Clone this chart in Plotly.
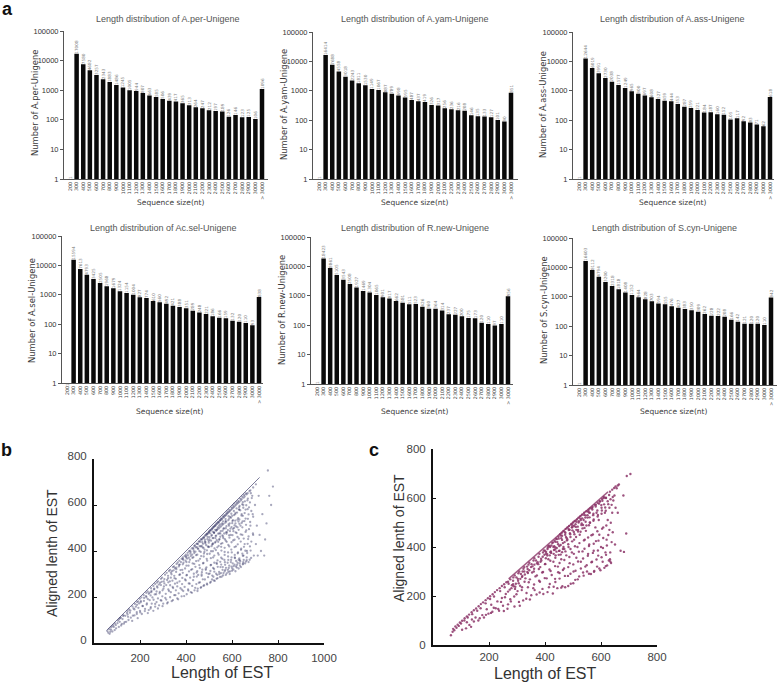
import plotly.graph_objects as go

W, H = 778, 682

sizes = [str(s) for s in range(200, 3100, 100)] + ["> 3000"]

per_counts = [1, 17008, 7580, 4682, 3257, 2343, 1883, 1486, 1245, 1005, 944, 807, 663, 585, 506,
              439, 417, 365, 313, 264, 247, 212, 197, 189, 126, 146, 123, 125, 106, 1096]
yam_counts = [1, 16414, 7688, 4558, 3018, 2243, 1811, 1530, 1149, 1067, 887, 789, 698, 595, 487,
              437, 419, 326, 317, 256, 236, 216, 208, 146, 135, 133, 127, 101, 90, 851]
ass_counts = [1, 12644, 6019, 3991, 2730, 2038, 1577, 1249, 965, 800, 697, 608, 527, 459, 444,
              353, 287, 259, 221, 184, 187, 160, 152, 105, 117, 92, 83, 71, 62, 618]
sel_counts = [1, 15594, 7613, 4793, 3425, 2505, 1968, 1679, 1324, 1154, 1004, 827, 774, 610, 560,
              492, 421, 388, 351, 289, 248, 221, 186, 166, 159, 132, 120, 110, 93, 838]
new_counts = [1, 18423, 8861, 5105, 3543, 2508, 1927, 1469, 1304, 1065, 901, 817, 662, 581, 511,
              523, 426, 360, 364, 314, 237, 227, 200, 175, 173, 120, 110, 97, 110, 956]
cyn_counts = [1, 16603, 8112, 4794, 3200, 2318, 1818, 1408, 1152, 964, 828, 703, 594, 555, 476,
              427, 383, 350, 309, 262, 228, 222, 208, 166, 142, 121, 120, 120, 110, 942]

log_ticks = [1, 10, 100, 1000, 10000, 100000]

# points, grouped by length band
b_edge = [55, 720]
b_points = [
    (62, 45), (68, 40), (74, 58), (80, 50), (86, 70), (90, 56), (96, 64), (102, 86), (108, 70), (112, 92),
    (118, 76), (124, 104), (130, 84), (136, 118), (140, 92), (146, 124), (150, 100), (156, 132), (160, 110),
    (166, 96), (172, 150), (176, 120), (182, 158), (186, 134), (190, 108), (196, 172), (200, 140), (204, 182),
    (208, 126), (212, 160), (218, 196), (222, 148), (226, 204), (230, 172), (234, 130), (238, 214), (242, 186),
    (246, 150), (250, 226), (254, 198), (258, 140), (262, 236), (266, 170), (270, 212), (274, 246), (278, 150),
    (282, 254), (286, 222), (290, 186), (294, 266), (298, 160), (302, 236), (306, 278), (310, 196), (314, 252),
    (318, 172), (322, 292), (326, 226), (330, 268), (334, 306), (338, 182), (342, 244), (346, 316), (350, 282),
    (354, 208), (358, 328), (362, 262), (366, 190), (370, 340), (374, 298), (378, 352), (382, 232), (384, 318),
    (388, 362), (392, 204), (396, 276), (400, 372), (402, 336), (404, 296), (408, 382), (410, 228), (414, 352),
    (416, 258), (420, 396), (422, 318), (426, 218), (428, 370), (432, 408), (434, 288), (436, 344), (440, 240),
    (442, 416), (444, 382), (446, 306), (450, 226), (452, 430), (454, 358), (456, 262), (458, 400), (460, 326),
    (462, 440), (464, 240), (466, 378), (468, 292), (470, 450), (472, 416), (474, 346), (476, 248), (478, 458),
    (480, 396), (482, 276), (484, 438), (486, 318), (488, 468), (490, 366), (492, 254), (494, 474), (496, 420),
    (498, 300), (500, 484), (502, 450), (503, 388), (505, 262), (507, 490), (509, 340), (511, 466), (513, 276),
    (515, 498), (516, 430), (518, 372), (520, 506), (522, 480), (523, 310), (525, 270), (527, 512), (528, 456),
    (530, 404), (532, 520), (533, 348), (535, 494), (537, 282), (539, 526), (540, 440), (542, 384), (544, 510),
    (545, 300), (547, 534), (549, 476), (550, 330), (552, 542), (553, 418), (555, 288), (557, 520), (558, 366),
    (560, 550), (562, 456), (563, 304), (565, 498), (567, 556), (568, 396), (570, 340), (572, 530), (573, 296),
    (575, 564), (577, 440), (578, 482), (580, 572), (582, 318), (583, 376), (585, 516), (587, 580), (588, 420),
    (590, 300), (592, 548), (594, 470), (595, 352), (597, 590), (599, 394), (600, 314), (602, 530), (604, 598),
    (605, 446), (607, 334), (609, 500), (610, 606), (612, 372), (614, 560), (615, 312), (617, 420), (619, 612),
    (620, 478), (622, 340), (624, 536), (625, 390), (627, 618), (629, 324), (630, 454), (632, 580), (634, 360),
    (635, 628), (637, 510), (639, 330), (640, 410), (642, 560), (644, 636), (645, 470), (647, 342), (649, 600),
    (650, 380), (652, 644), (654, 530), (655, 430), (657, 346), (659, 580), (660, 650), (662, 490), (664, 360),
    (665, 400), (667, 620), (669, 540), (670, 452), (672, 352), (674, 590), (676, 660), (678, 420), (680, 510),
    (683, 370), (686, 630), (690, 560), (692, 470), (695, 380), (700, 600), (704, 430), (708, 510), (712, 380),
    (716, 640), (720, 470), (726, 400), (732, 560), (740, 380), (744, 450), (750, 520), (756, 750), (762, 640),
    (770, 600), (778, 680),
]

# second pass over panel b, scanned row by row from low to high aligned length
b_points_rows = [
    (58, 52), (71, 49), (66, 60), (95, 78), (79, 72), (121, 83), (104, 97), (133, 91), (113, 108), (148, 114),
    (127, 117), (169, 119), (143, 131), (186, 126), (158, 141), (201, 133), (176, 146), (221, 139), (193, 153),
    (238, 143), (211, 161), (247, 156), (187, 166), (229, 167), (266, 158), (203, 177), (251, 171), (283, 164),
    (217, 183), (272, 178), (301, 171), (234, 191), (259, 188), (293, 184), (321, 177), (228, 199), (278, 194),
    (314, 189), (246, 207), (343, 186), (297, 203), (264, 211), (331, 199), (362, 194), (285, 216), (249, 221),
    (312, 214), (349, 208), (381, 203), (272, 224), (334, 221), (368, 216), (261, 233), (298, 229), (403, 212),
    (356, 229), (323, 233), (388, 226), (276, 241), (344, 239), (421, 221), (304, 246), (376, 238), (291, 252),
    (409, 233), (362, 246), (331, 251), (437, 229), (394, 244), (306, 259), (451, 236), (352, 258), (427, 248),
    (383, 256), (323, 264), (466, 243), (412, 259), (341, 271), (445, 256), (372, 268), (479, 251), (318, 274),
    (399, 272), (461, 264), (356, 279), (431, 273), (491, 258), (334, 284), (384, 283), (508, 266), (418, 284),
    (473, 277), (349, 292), (447, 289), (521, 272), (371, 296), (402, 294), (496, 286), (337, 299), (434, 301),
    (533, 279), (468, 298), (386, 305), (514, 293), (357, 309), (413, 311), (548, 287), (489, 304), (449, 312),
    (531, 301), (376, 317), (561, 294), (427, 321), (506, 313), (396, 324), (471, 319), (544, 309), (352, 325),
    (577, 303), (441, 331), (522, 322), (369, 333), (489, 329), (559, 318), (411, 336), (591, 311), (458, 339),
    (538, 331), (386, 342), (507, 338), (574, 327), (429, 346), (606, 319), (476, 348), (553, 341), (402, 352),
    (523, 349), (588, 336), (444, 356), (621, 328), (492, 358), (569, 351), (417, 362), (537, 359), (603, 346),
    (461, 366), (635, 336), (386, 366), (508, 369), (584, 361), (432, 373), (553, 371), (618, 357), (477, 376),
    (648, 345), (401, 377), (523, 380), (598, 372), (449, 384), (568, 383), (632, 368), (492, 387), (419, 388),
    (661, 354), (539, 391), (612, 383), (464, 396), (583, 394), (647, 379), (509, 399), (434, 399), (554, 402),
    (626, 394), (481, 406), (597, 406), (666, 391), (524, 411), (451, 411), (568, 414), (639, 405), (497, 417),
    (611, 417), (681, 402), (542, 422), (468, 422), (584, 426), (652, 418), (514, 428), (625, 429), (558, 434),
    (484, 433), (598, 438), (668, 431), (529, 440), (638, 441), (573, 445), (499, 444), (611, 449), (684, 441),
    (546, 452), (651, 454), (516, 456), (589, 458), (624, 461), (561, 463), (672, 463), (531, 467), (602, 469),
    (638, 472), (576, 475), (545, 477), (691, 476), (616, 481), (659, 483), (522, 481), (591, 486), (559, 488),
    (629, 492), (534, 491), (674, 495), (604, 496), (573, 499), (645, 503), (546, 502), (618, 507), (587, 510),
    (661, 514), (558, 513), (632, 518), (601, 521), (571, 523), (679, 526), (646, 529), (614, 532), (584, 534),
    (659, 541), (627, 543), (596, 545), (692, 549), (641, 554), (609, 556), (672, 559), (655, 565), (622, 567),
    (636, 577), (684, 574), (668, 582), (649, 588), (631, 590), (662, 599), (644, 603), (678, 611), (656, 616),
    (669, 628), (688, 640), (682, 651),
]

# extra points along the dark band just under the diagonal in panel b
b_points_band = [
    (84, 78), (117, 110), (153, 146), (178, 170), (206, 198), (233, 224), (258, 248), (279, 268), (296, 284),
    (316, 305), (331, 318), (348, 333), (364, 350), (381, 366), (394, 378), (407, 392), (418, 402), (431, 414),
    (439, 424), (449, 432), (458, 443), (467, 452), (476, 459), (484, 469), (491, 475), (499, 482), (506, 491),
    (513, 497), (521, 505), (528, 511), (536, 520), (543, 526), (551, 535), (558, 541), (566, 549), (574, 557),
    (582, 566), (591, 574), (600, 584), (609, 592), (618, 602), (627, 610), (638, 620), (650, 632), (663, 646),
    (398, 358), (412, 371), (427, 384), (441, 397), (453, 409), (464, 420), (474, 431), (483, 441), (493, 451),
    (502, 460), (512, 470), (522, 478), (531, 488), (541, 497), (552, 507), (563, 518), (575, 528), (588, 541),
    (601, 553), (615, 566), (630, 580), (476, 413), (488, 425), (499, 436), (509, 445), (519, 456), (529, 465),
    (540, 475), (551, 486), (563, 497), (576, 508), (590, 520), (604, 534), (501, 418), (517, 433), (534, 447),
    (549, 462), (566, 476), (582, 491), (598, 504), (615, 520), (632, 537), (647, 553), (560, 330), (571, 318),
    (586, 326), (598, 332), (611, 341), (624, 349), (636, 355), (651, 361), (664, 372), (677, 362),
    (192, 181), (241, 219), (287, 261), (303, 268), (322, 282), (339, 312), (358, 321), (373, 341), (389, 349),
    (405, 367), (421, 378), (436, 391), (447, 417), (459, 421), (471, 438), (482, 449), (494, 461), (505, 477),
    (516, 484), (527, 492), (538, 503), (549, 516), (561, 529), (572, 539), (585, 551), (597, 562), (608, 574),
    (620, 585), (633, 596), (647, 612), (478, 389), (491, 403), (511, 421), (526, 436), (544, 449), (558, 468),
    (574, 481), (593, 497), (611, 511), (628, 528), (517, 399), (536, 416), (552, 431), (569, 451), (587, 468),
    (606, 486), (624, 503), (642, 522), (453, 296), (469, 308), (486, 323), (503, 302), (518, 326), (534, 344),
    (549, 353), (567, 361), (581, 349), (596, 361), (613, 369), (629, 362), (645, 388), (658, 401), (519, 288),
    (536, 296), (552, 304), (568, 312), (584, 309), (601, 324), (617, 333), (633, 346), (649, 352),
    (73, 68), (91, 85), (109, 103), (128, 121), (146, 139), (167, 159), (187, 178), (199, 192), (216, 208),
    (227, 218), (248, 238), (266, 257), (274, 263), (291, 279), (309, 297), (326, 313), (343, 330), (359, 344),
    (371, 358), (386, 372), (399, 384), (413, 399), (425, 411), (436, 422), (446, 431), (455, 440), (464, 449),
    (473, 456), (481, 464), (489, 473), (497, 479), (503, 487), (511, 494), (518, 502), (525, 508), (533, 516),
    (541, 523), (548, 531), (555, 538), (563, 546), (571, 553), (579, 562), (587, 570), (596, 579), (605, 588),
    (614, 597), (623, 606), (632, 614), (642, 625), (655, 637), (668, 651), (680, 664), (692, 676), (704, 690),
]

# points, grouped by length band
c_edge = [270, 625]
c_points = [
    (64, 40), (70, 54), (76, 60), (84, 70), (92, 78), (100, 88), (104, 62), (112, 100), (118, 68), (124, 112),
    (130, 82), (136, 74), (140, 126), (146, 96), (152, 112), (158, 140), (162, 100), (170, 150), (176, 122),
    (182, 112), (188, 170), (192, 146), (198, 128), (204, 188), (208, 164), (212, 136), (218, 198), (224, 150),
    (230, 178), (236, 140), (240, 220), (246, 192), (250, 160), (256, 236), (260, 208), (266, 148), (270, 250),
    (274, 226), (278, 178), (282, 244), (286, 262), (290, 198), (294, 238), (298, 276), (302, 220), (306, 252),
    (310, 160), (314, 290), (318, 236), (322, 182), (326, 300), (330, 272), (334, 212), (338, 310), (342, 256),
    (346, 186), (350, 318), (354, 296), (358, 232), (362, 328), (366, 280), (370, 206), (374, 338), (378, 310),
    (382, 258), (386, 352), (390, 296), (394, 208), (398, 368), (400, 330), (404, 380), (406, 272), (410, 398),
    (412, 350), (414, 236), (418, 400), (420, 302), (422, 376), (426, 416), (428, 210), (430, 340), (432, 388),
    (434, 426), (436, 270), (438, 366), (440, 434), (442, 396), (444, 232), (446, 320), (448, 442), (450, 384),
    (452, 294), (454, 452), (456, 408), (458, 350), (460, 458), (462, 240), (464, 392), (466, 466), (468, 312),
    (470, 420), (472, 236), (474, 474), (476, 366), (478, 436), (480, 480), (482, 282), (484, 400), (486, 486),
    (488, 334), (490, 452), (492, 250), (494, 494), (496, 378), (498, 468), (500, 500), (502, 300), (504, 430),
    (506, 506), (508, 266), (510, 482), (512, 356), (514, 512), (516, 400), (518, 470), (520, 520), (522, 280),
    (524, 450), (526, 526), (528, 340), (530, 490), (532, 532), (534, 382), (536, 296), (538, 510), (540, 540),
    (542, 430), (544, 320), (546, 466), (548, 546), (550, 300), (552, 520), (554, 372), (556, 552), (558, 410),
    (560, 500), (562, 558), (564, 290), (566, 448), (568, 340), (570, 564), (572, 530), (574, 385), (576, 302),
    (578, 572), (580, 480), (582, 424), (584, 540), (586, 320), (588, 580), (590, 365), (592, 510), (594, 450),
    (596, 586), (598, 305), (600, 400), (602, 560), (604, 596), (606, 340), (608, 480), (610, 604), (612, 315),
    (614, 540), (616, 378), (618, 600), (620, 430), (622, 325), (624, 510), (626, 575), (628, 345), (630, 470),
    (632, 350), (634, 595), (636, 335), (638, 420), (640, 540), (644, 590), (648, 610), (652, 560), (656, 640),
    (660, 540), (664, 655), (650, 410), (670, 385), (680, 610), (682, 380), (690, 455), (692, 690), (705, 698),
    (430, 400), (436, 390), (444, 420), (452, 385), (458, 436), (466, 400), (472, 450), (480, 430), (488, 470),
    (496, 480), (504, 486), (512, 470), (520, 500), (528, 510), (536, 490), (544, 520), (552, 530), (560, 540),
    (280, 232), (288, 240), (296, 250), (304, 262), (312, 270), (320, 300), (328, 288), (336, 320), (344, 305),
    (352, 330), (360, 300), (368, 345), (376, 330), (384, 340), (392, 360), (400, 385), (408, 365), (416, 405),
]

# second pass over panel c, scanned row by row
c_points_rows = [
    (121, 93), (139, 104), (167, 109), (189, 123), (207, 131), (233, 147), (253, 139), (268, 166), (291, 157),
    (217, 152), (243, 176), (276, 187), (307, 176), (333, 189), (257, 195), (298, 207), (351, 203), (381, 214),
    (268, 218), (317, 224), (363, 224), (409, 216), (293, 229), (339, 236), (391, 229), (431, 238), (311, 242),
    (361, 247), (417, 249), (458, 234), (327, 258), (379, 262), (437, 257), (483, 241), (346, 268), (399, 273),
    (452, 271), (501, 252), (318, 278), (371, 284), (424, 286), (471, 282), (517, 268), (339, 294), (393, 298),
    (447, 297), (491, 291), (538, 283), (361, 311), (416, 308), (464, 306), (509, 303), (557, 291), (383, 318),
    (436, 322), (483, 318), (528, 312), (575, 299), (401, 331), (452, 335), (501, 329), (549, 326), (594, 312),
    (419, 344), (469, 347), (518, 341), (566, 338), (617, 322), (437, 356), (487, 359), (536, 353), (584, 349),
    (633, 341), (408, 371), (456, 369), (503, 372), (553, 364), (602, 358), (421, 382), (473, 382), (521, 381),
    (571, 376), (618, 368), (437, 398), (491, 392), (541, 393), (589, 386), (633, 378), (451, 404), (507, 403),
    (557, 404), (607, 396), (464, 416), (523, 416), (574, 413), (621, 406), (478, 427), (539, 427), (591, 426),
    (491, 441), (554, 439), (608, 437), (505, 452), (571, 451), (626, 449), (518, 463), (587, 464), (642, 460),
    (534, 476), (604, 475), (548, 488), (619, 488), (561, 499), (635, 499), (574, 512), (588, 524), (602, 536),
    (617, 548), (630, 560), (611, 574), (624, 587), (638, 572), (642, 604),
    (268, 258), (287, 276), (305, 293), (323, 311), (341, 328), (359, 345), (377, 360), (393, 378), (409, 392),
    (423, 406), (437, 421), (449, 434), (461, 446), (473, 458), (485, 469), (497, 481), (509, 493), (521, 505),
    (533, 517), (545, 529), (557, 541), (569, 553), (581, 565), (593, 577), (605, 589), (617, 601), (629, 612),
    (286, 248), (303, 270), (319, 282), (337, 298), (355, 321), (371, 333), (387, 345), (403, 372), (419, 379),
    (433, 403), (447, 411), (461, 429), (475, 441), (489, 456), (503, 461), (517, 483), (531, 496), (545, 503),
    (559, 521), (573, 536), (587, 549), (601, 571), (403, 354), (417, 366), (431, 372), (441, 381), (449, 368),
    (461, 379), (469, 392), (483, 411), (497, 423), (511, 441), (527, 462), (541, 478), (557, 489), (573, 507),
    (589, 531), (603, 549), (615, 561),
]

# dots that run up the diagonal of panel c, below and above the solid stretch
c_points_diag = [
    (72, 66), (80, 76), (88, 83), (96, 92), (104, 99), (113, 109), (121, 117), (129, 124), (138, 134), (146, 142),
    (154, 149), (163, 158), (171, 167), (179, 174), (188, 183), (196, 191), (204, 199), (213, 207), (221, 216),
    (229, 224), (238, 232), (246, 241), (254, 248), (262, 256), (276, 268), (292, 284), (308, 300), (326, 318),
    (344, 336), (362, 354), (380, 372), (396, 386), (412, 404), (428, 419), (442, 432), (456, 447), (470, 461),
    (484, 474), (498, 489), (512, 503), (526, 516), (540, 531), (554, 545), (568, 559), (582, 572), (596, 587),
    (610, 600), (632, 626), (640, 634), (647, 641), (652, 647), (660, 651),
]

BLACK = "#0a0a0a"
TXT = "#3a3a3a"


def px_x(p):
    return p / W


def px_y(p):
    return 1 - p / H


def note(fig, text, x, y, size, angle=0, color=TXT, family="DejaVu Sans", weight=None):
    fig.add_annotation(text=f"<b>{text}</b>" if weight else text, xref="paper", yref="paper",
                       x=px_x(x), y=px_y(y), showarrow=False, textangle=angle,
                       font=dict(size=size, color=color, family=family),
                       xanchor="center", yanchor="middle")


# counts, title, y label, axis left/right, axis top/bottom, first/last bar centre, title/label centres
bar_panels = [
    (per_counts, "Length distribution of A.per-Unigene", "Number of A.per-Unigene", 64, 268, 31, 179, 70, 262, 168, 19, 35, 103, 171, 203),
    (yam_counts, "Length distribution of A.yam-Unigene", "Number of A.yam-Unigene", 313, 518, 32, 179, 319, 511, 415, 19, 284, 105, 415, 203),
    (ass_counts, "Length distribution of A.ass-Unigene", "Number of A.ass-Unigene", 573, 774, 32, 179, 579, 770, 672, 19, 543, 105, 673, 203),
    (sel_counts, "Length distribution of Ac.sel-Unigene", "Number of A.sel-Unigene", 62, 263, 236, 383, 67, 259, 163, 228, 32, 310, 170, 411),
    (new_counts, "Length distribution of R.new-Unigene", "Number of R.new-Unigene", 311, 513, 237, 384, 317, 508, 415, 228, 282, 310, 415, 411),
    (cyn_counts, "Length distribution of S.cyn-Unigene", "Number of S.cyn-Unigene", 573, 777, 238, 385, 579, 771, 664, 228, 544, 310, 674, 411),
]

fig = go.Figure()
layout_axes = {}

for n, (counts, title, ylab, left, right, top, bottom, first, last, tx, ty, yx, yy, xx, xy) in enumerate(bar_panels, 1):
    step = (last - first) / 29
    fig.add_trace(go.Bar(
        x=list(range(30)), y=counts, xaxis=f"x{n}", yaxis=f"y{n}", width=0.68,
        marker=dict(color=BLACK, line_width=0),
        text=[str(c) for c in counts], textposition="outside", textangle=-90,
        textfont=dict(size=4.2, color="#777777", family="DejaVu Sans"),
        constraintext="none", cliponaxis=False, showlegend=False,
    ))
    layout_axes[f"xaxis{n}"] = dict(
        domain=[px_x(left), px_x(right)], anchor=f"y{n}",
        range=[(left - first) / step, (right - first) / step],
        tickmode="array", tickvals=list(range(30)), ticktext=sizes, tickangle=-90,
        ticks="", showgrid=False, zeroline=False, showline=True, linecolor="#555555", linewidth=1,
        tickfont=dict(size=4.8, color="#444444", family="DejaVu Sans"),
    )
    layout_axes[f"yaxis{n}"] = dict(
        domain=[px_y(bottom), px_y(top)], anchor=f"x{n}", type="log", range=[0, 5],
        tickmode="array", tickvals=log_ticks, ticktext=[str(t) for t in log_ticks],
        ticks="outside", ticklen=3, tickcolor="#555555", showgrid=False, zeroline=False,
        showline=True, linecolor="#555555", linewidth=1,
        tickfont=dict(size=7.5, color="#333333", family="Liberation Sans"),
    )
    note(fig, title, tx, ty, 9, color="#555555", family="Liberation Sans")
    note(fig, ylab, yx, yy, 8.4, angle=-90)
    note(fig, "Sequence size(nt)", xx, xy, 7.5)

# scatter panels: b then c
scatter_panels = [
    (7, b_points + b_points_rows + b_points_band, b_edge, "#2e2e60", 2.3, 0.42, 0.8, 94, 324, 459, 643, [0, 1000],
     [200, 400, 600, 800, 1000], -3, 3),
    (8, c_points + c_points_rows + c_points_diag, c_edge, "#8c3568", 2.4, 0.85, 1.4, 433, 657, 449, 645, [0, 800],
     [200, 400, 600, 800], 0, 0),
]

for n, pts, edge, col, ms, op, lw, left, right, top, bottom, xrange_, xticks, yshift, xoff in scatter_panels:
    fig.add_trace(go.Scatter(x=edge, y=edge, mode="lines", xaxis=f"x{n}", yaxis=f"y{n}",
                             line=dict(color=col, width=lw), opacity=0.8, showlegend=False))
    fig.add_trace(go.Scatter(x=[p[0] for p in pts], y=[p[1] for p in pts], mode="markers",
                             xaxis=f"x{n}", yaxis=f"y{n}", showlegend=False,
                             marker=dict(color=col, size=ms, opacity=op, line_width=0)))
    layout_axes[f"xaxis{n}"] = dict(
        domain=[px_x(left), px_x(right)], anchor=f"y{n}", range=xrange_,
        tickmode="array", tickvals=xticks, ticks="inside", ticklen=3, tickcolor="#111111",
        showgrid=False, zeroline=False, showline=True, linecolor="#111111", linewidth=2,
        ticklabelstandoff=xoff,
        tickfont=dict(size=11.5, color="#444444", family="Liberation Sans"),
    )
    layout_axes[f"yaxis{n}"] = dict(
        domain=[px_y(bottom), px_y(top)], anchor=f"x{n}", range=[0, 800],
        tickmode="array", tickvals=[0, 200, 400, 600, 800], ticks="inside", ticklen=3, tickcolor="#111111",
        showgrid=False, zeroline=False, showline=True, linecolor="#111111", linewidth=2,
        ticklabelstandoff=3, ticklabelshift=yshift,
        tickfont=dict(size=11.5, color="#444444", family="Liberation Sans"),
    )

note(fig, "Length of EST", 222, 672, 16, family="Liberation Sans", color="#333333")
note(fig, "Aligned lenth of EST", 52, 553, 14, angle=-90, family="Liberation Sans", color="#333333")
note(fig, "Length of EST", 545, 673, 16, family="Liberation Sans", color="#333333")
note(fig, "Aligned lenth of EST", 399, 538, 14, angle=-90, family="Liberation Sans", color="#333333")

note(fig, "a", 8, 9, 18, color="#111111", family="Liberation Sans", weight=True)
note(fig, "b", 6, 450, 18, color="#111111", family="Liberation Sans", weight=True)
note(fig, "c", 374, 450, 18, color="#111111", family="Liberation Sans", weight=True)

# autoexpand off: edge annotations must not shrink the plot area
fig.update_layout(width=W, height=H, autosize=False, margin=dict(l=0, r=0, t=0, b=0, autoexpand=False),
                  paper_bgcolor="white", plot_bgcolor="white", bargap=0.3, **layout_axes)

# pin the plot to the page corner so the pixel positions above hold
pin = """document.body.style.margin = '0';
var gd = document.querySelector('.plotly-graph-div');
gd.style.position = 'absolute'; gd.style.left = '0'; gd.style.top = '0';
document.documentElement.style.overflow = 'hidden';"""
fig.write_html("out.html", config={"displayModeBar": False}, post_script=pin)
